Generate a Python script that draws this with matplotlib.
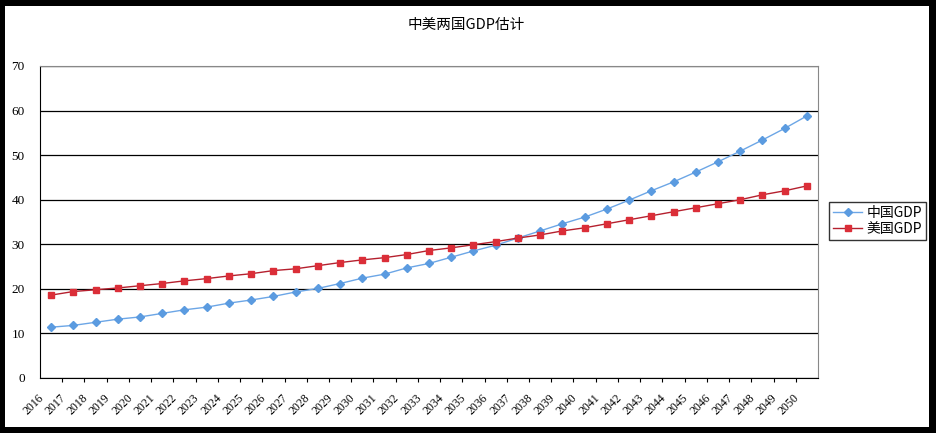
import matplotlib.pyplot as plt
from matplotlib.patches import Rectangle
from matplotlib.ticker import FixedLocator
import matplotlib.transforms as mtransforms

plt.rcParams["font.family"] = ["Noto Sans CJK SC", "DejaVu Sans"]

# 数据
years = [str(y) for y in range(2016, 2051)]
china_gdp = [11.4, 11.8, 12.5, 13.2, 13.7, 14.5, 15.3, 15.9, 16.8, 17.5,
             18.3, 19.3, 20.1, 21.2, 22.4, 23.3, 24.7, 25.7, 27.1, 28.5,
             29.8, 31.4, 33.0, 34.6, 36.1, 37.9, 39.9, 42.0, 44.0, 46.2,
             48.5, 50.9, 53.4, 56.0, 58.8]
us_gdp = [18.6, 19.4, 19.8, 20.2, 20.7, 21.2, 21.8, 22.3, 22.9, 23.4,
          24.1, 24.5, 25.2, 25.9, 26.5, 27.0, 27.7, 28.6, 29.2, 29.9,
          30.6, 31.4, 32.1, 33.0, 33.7, 34.6, 35.5, 36.4, 37.3, 38.2,
          39.1, 40.0, 41.1, 42.0, 43.1]
y_ticks = [0, 10, 20, 30, 40, 50, 60, 70]

W, H = 936, 433
fig = plt.figure(figsize=(W / 100, H / 100), dpi=100)
fig.patch.set_facecolor("black")
# 白色画布 + 黑色外框
fig.patches.append(Rectangle((5 / W, 6 / H), 924 / W, 421 / H,
                             transform=fig.transFigure, facecolor="white",
                             edgecolor="none", zorder=-1))

ax = fig.add_axes([40 / W, 55 / H, 778 / W, 312 / H])
ax.set_zorder(1)
x = list(range(len(years)))

ax.plot(x, china_gdp, color="#6CA6E6", linewidth=1.0, marker="D",
        markersize=4.2, markerfacecolor="#5B9BE0", markeredgecolor="#5B9BE0",
        label="中国GDP", zorder=3)
ax.plot(x, us_gdp, color="#B5202E", linewidth=1.0, marker="s",
        markersize=4.6, markerfacecolor="#DB2E38", markeredgecolor="#DB2E38",
        label="美国GDP", zorder=3)

ax.set_xlim(-0.5, len(years) - 0.5)
ax.set_ylim(0, 70)

# 网格线
ax.set_yticks(y_ticks)
ax.yaxis.grid(True, color="black", linewidth=0.9)
ax.set_axisbelow(True)
ax.tick_params(axis="y", length=0, pad=11, labelsize=9.5)
for lab in ax.get_yticklabels():
    lab.set_family("Liberation Serif")

ax.set_xticks(x)
ax.set_xticklabels(years, rotation=45, ha="right", va="top",
                   fontsize=8.5, family="Liberation Serif")
ax.tick_params(axis="x", which="major", length=0, pad=10)
ax.xaxis.set_minor_locator(FixedLocator([i + 0.5 for i in range(len(years) - 1)]))
ax.tick_params(axis="x", which="minor", length=3, width=0.8, color="black", direction="out")
offset = mtransforms.ScaledTranslation(-5 / 100, 0, fig.dpi_scale_trans)
for lab in ax.get_xticklabels():
    lab.set_transform(lab.get_transform() + offset)

ax.spines["left"].set_color("black")
ax.spines["bottom"].set_color("black")
ax.spines["top"].set_color("#888888")
ax.spines["right"].set_color("#888888")

fig.text(466 / W, 1 - 25 / H, "中美两国GDP估计", ha="center", va="center", fontsize=10.5)

leg = fig.legend(loc="center left", bbox_to_anchor=(829 / W, 1 - 221 / H),
                 frameon=True, fancybox=False, edgecolor="black", fontsize=10,
                 handlelength=2.1, handletextpad=0.3, borderpad=0.3,
                 labelspacing=0.15, borderaxespad=0)
leg.get_frame().set_linewidth(1.0)

fig.savefig("out.png", dpi=100, facecolor=fig.get_facecolor())
